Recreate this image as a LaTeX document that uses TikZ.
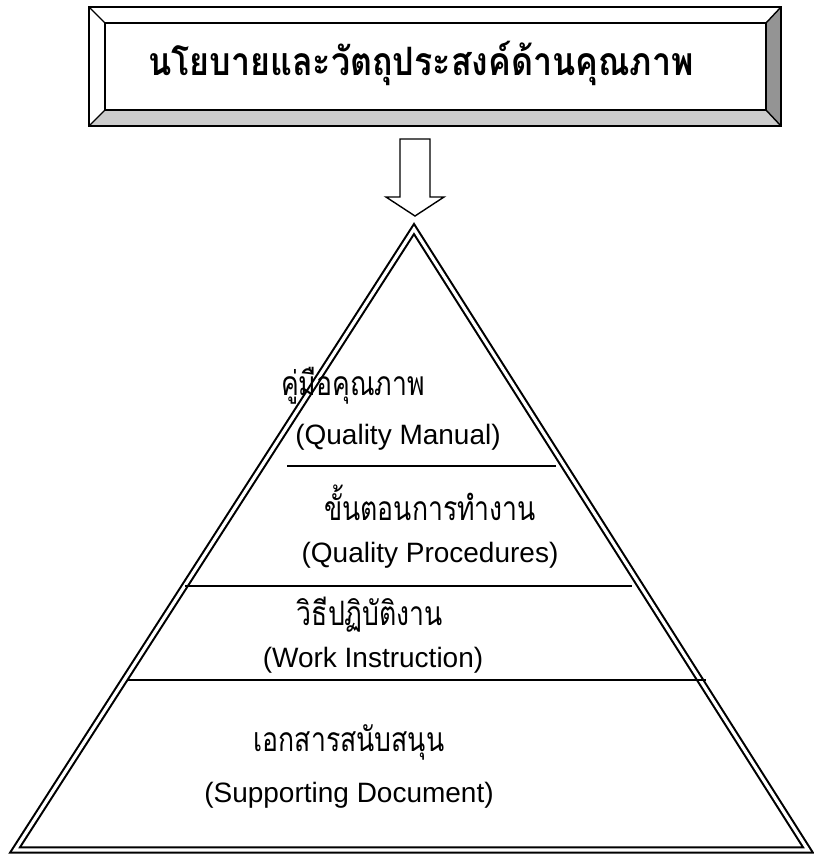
\documentclass[tikz,border=0pt]{standalone}
\usepackage{fontspec}
\setmainfont{Liberation Sans}
\newfontfamily\thaifont[Script=Thai]{Loma}
\newcommand\thtxt[1]{\scalebox{0.95}[1.2]{#1}}
\begin{document}
\begin{tikzpicture}[x=1pt,y=-1pt,
  en/.style={font=\fontsize{28}{32}\selectfont, inner sep=0pt},
  th/.style={font=\thaifont\fontsize{28}{32}\selectfont, inner sep=0pt},
  divider/.style={line width=1.6pt},
  bevelline/.style={line width=1.4pt, line join=miter},
]
\useasboundingbox (0,0) rectangle (814,855);
% bevel box
\coordinate (o1) at (89,7);
\coordinate (o2) at (781,7);
\coordinate (o3) at (781,126);
\coordinate (o4) at (89,126);
\coordinate (i1) at (105,23);
\coordinate (i2) at (766,23);
\coordinate (i3) at (766,110);
\coordinate (i4) at (105,110);
\fill[white] (o1) -- (o2) -- (i2) -- (i1) -- cycle;
\fill[white] (o1) -- (i1) -- (i4) -- (o4) -- cycle;
\fill[black!20] (o4) -- (i4) -- (i3) -- (o3) -- cycle;
\fill[black!42] (o2) -- (o3) -- (i3) -- (i2) -- cycle;
\draw[bevelline] (o1) rectangle (o3);
\draw[bevelline] (i1) rectangle (i3);
\draw[bevelline] (o1) -- (i1) (o2) -- (i2) (o3) -- (i3) (o4) -- (i4);
\node[font=\thaifont\bfseries\fontsize{34}{38}\selectfont, inner sep=0pt] (title) at (421,63) {\scalebox{1}[1.15]{นโยบายและวัตถุประสงค์ด้านคุณภาพ}};
% arrow
\draw[line width=1.4pt, line join=miter, fill=white] (400,139) -- (430,139) -- (430,197) -- (444,197) -- (415,216) -- (386,197) -- (400,197) -- cycle;
% pyramid
\coordinate (apex) at (414,229);
\coordinate (bl) at (15,850);
\coordinate (br) at (808,850);
\draw[double, double distance=3.2pt, line width=2.1pt, line join=miter] (apex) -- (br) -- (bl) -- cycle;
% dividers
\coordinate (d1l) at (287,466);
\coordinate (d1r) at (556,466);
\coordinate (d2l) at (185,586);
\coordinate (d2r) at (632,586);
\coordinate (d3l) at (127,680);
\coordinate (d3r) at (706,680);
\draw[divider] (d1l) -- (d1r);
\draw[divider] (d2l) -- (d2r);
\draw[divider] (d3l) -- (d3r);
% texts
\node[th] (t1) at (353,386) {\thtxt{คู่มือคุณภาพ}};
\node[en] (e1) at (398,437) {(Quality Manual)};
\node[th] (t2) at (430,503) {\thtxt{ขั้นตอนการทำงาน}};
\node[en] (e2) at (430,555) {(Quality Procedures)};
\node[th] (t3) at (370,615) {\thtxt{วิธีปฏิบัติงาน}};
\node[en] (e3) at (373,660) {(Work Instruction)};
\node[th] (t4) at (349,742) {\thtxt{เอกสารสนับสนุน}};
\node[en] (e4) at (349,795) {(Supporting Document)};
\end{tikzpicture}
\end{document}
